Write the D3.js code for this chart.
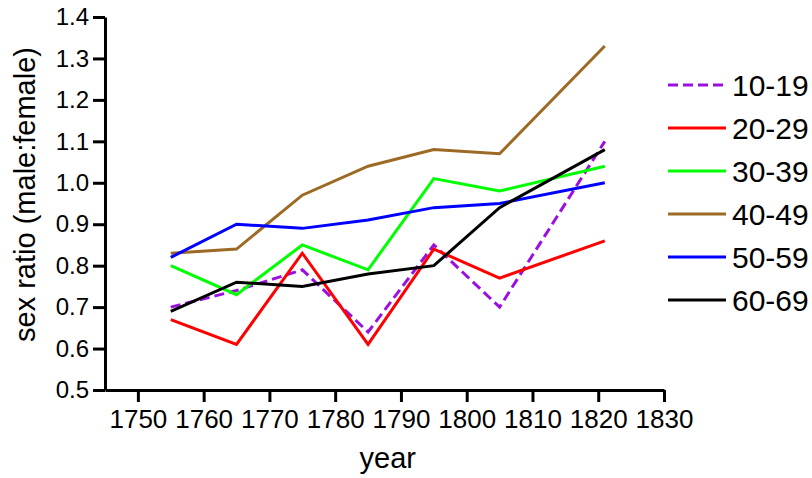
<!DOCTYPE html>
<html>
<head>
<meta charset="utf-8">
<script src="https://cdn.jsdelivr.net/npm/d3@7"></script>
<style>
  body { margin: 0; background: #fff; }
  svg text { font-family: "Liberation Sans", Arial, sans-serif; fill: #000; }
</style>
</head>
<body>
<div id="chart"></div>
<script>
// data
var years = [1755, 1765, 1775, 1785, 1795, 1805, 1821];
var groups = ["10-19", "20-29", "30-39", "40-49", "50-59", "60-69"];
var ratio1019 = [0.70, 0.74, 0.79, 0.64, 0.85, 0.70, 1.10];
var ratio2029 = [0.67, 0.61, 0.83, 0.61, 0.84, 0.77, 0.86];
var ratio3039 = [0.80, 0.73, 0.85, 0.79, 1.01, 0.98, 1.04];
var ratio4049 = [0.83, 0.84, 0.97, 1.04, 1.08, 1.07, 1.33];
var ratio5059 = [0.82, 0.90, 0.89, 0.91, 0.94, 0.95, 1.00];
var ratio6069 = [0.69, 0.76, 0.75, 0.78, 0.80, 0.94, 1.08];
var xTicks = [1750, 1760, 1770, 1780, 1790, 1800, 1810, 1820, 1830];
var yTicks = [0.5, 0.6, 0.7, 0.8, 0.9, 1.0, 1.1, 1.2, 1.3, 1.4];

var values = [ratio1019, ratio2029, ratio3039, ratio4049, ratio5059, ratio6069];
var colors = ["#9b10e0", "#ff0000", "#00ff00", "#9c6a24", "#0000ff", "#000000"];
var dashes = ["10,5", null, null, null, null, null];

var W = 812, H = 478;
var margin = {top: 17, right: 148, bottom: 88, left: 105};
var width = W - margin.left - margin.right;
var height = H - margin.top - margin.bottom;

var svg = d3.select("#chart")
  .append("svg")
    .attr("width", W)
    .attr("height", H)
  .append("g")
    .attr("transform", "translate(" + margin.left + "," + margin.top + ")");

var x = d3.scaleLinear()
  .domain([1745, 1830])
  .range([0, width]);

var y = d3.scaleLinear()
  .domain([0.5, 1.4])
  .range([height, 0]);

// axes
var xAxis = svg.append("g")
  .attr("transform", "translate(0," + height + ")")
  .call(d3.axisBottom(x).tickValues(xTicks).tickFormat(d3.format("d"))
    .tickSize(12).tickSizeOuter(0).tickPadding(8));
xAxis.selectAll("text").style("font-size", "26px");

var yAxis = svg.append("g")
  .call(d3.axisLeft(y).tickValues(yTicks).tickFormat(d3.format(".1f"))
    .tickSize(12).tickSizeOuter(0).tickPadding(4));
yAxis.selectAll("text").style("font-size", "24px");

svg.selectAll(".domain, .tick line")
  .attr("stroke", "#000")
  .attr("stroke-width", 3);

// axis titles
svg.append("text")
  .attr("x", x(1788))
  .attr("y", height + 78)
  .attr("text-anchor", "middle")
  .style("font-size", "29px")
  .text("year");

svg.append("text")
  .attr("transform", "translate(" + (-70) + "," + (height / 2 - 9) + ") rotate(-90)")
  .attr("text-anchor", "middle")
  .style("font-size", "29px")
  .text("sex ratio (male:female)");

// lines
var line = d3.line()
  .x(function(d, i) { return x(years[i]); })
  .y(function(d) { return y(d); });

svg.selectAll(".series")
  .data(values)
  .enter()
  .append("path")
    .attr("class", "series")
    .attr("fill", "none")
    .attr("stroke", function(d, i) { return colors[i]; })
    .attr("stroke-width", 3)
    .attr("stroke-dasharray", function(d, i) { return dashes[i]; })
    .attr("d", line);

// legend
var legend = svg.selectAll(".legend")
  .data(groups)
  .enter().append("g")
    .attr("class", "legend")
    .attr("transform", function(d, i) {
      return "translate(" + (563) + "," + (68 + i * 43) + ")";
    });

legend.append("line")
  .attr("x1", 0)
  .attr("x2", 58)
  .attr("stroke", function(d, i) { return colors[i]; })
  .attr("stroke-width", 3)
  .attr("stroke-dasharray", function(d, i) { return dashes[i]; });

legend.append("text")
  .attr("x", 64)
  .attr("dy", "0.36em")
  .style("font-size", "30px")
  .text(function(d) { return d; });
</script>
</body>
</html>
